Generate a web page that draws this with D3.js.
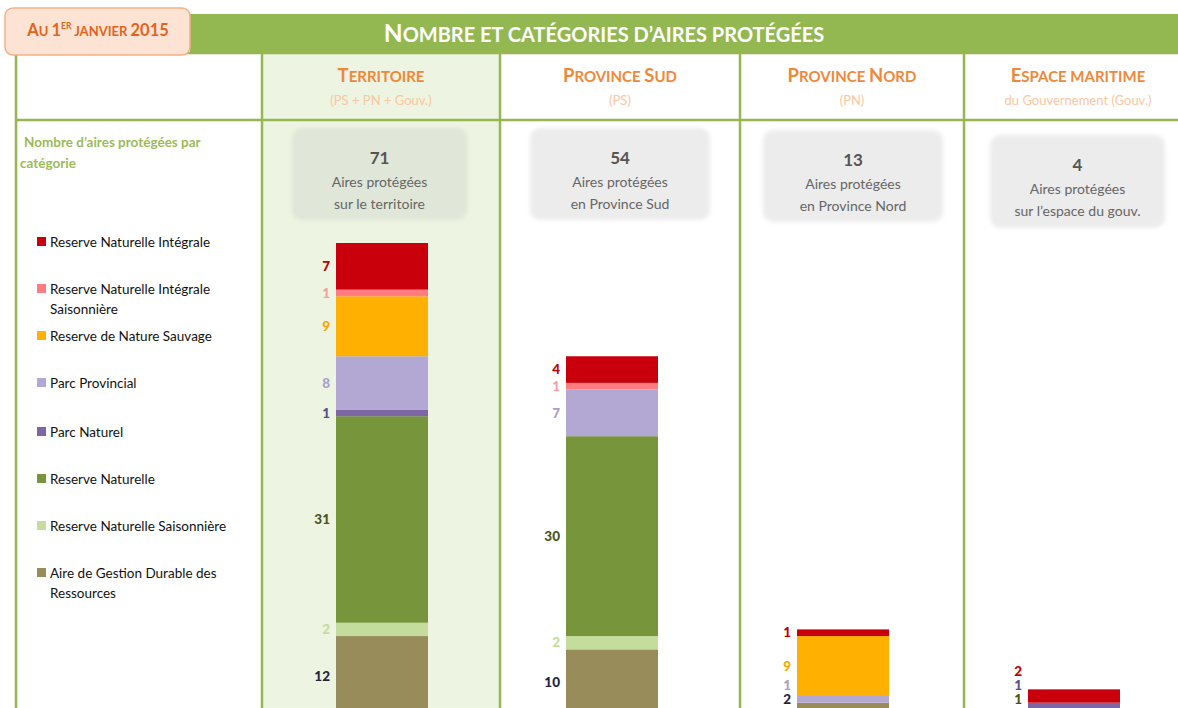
<!DOCTYPE html>
<html><head><meta charset="utf-8">
<script src="https://cdn.jsdelivr.net/npm/d3@7"></script>
<style>
body{margin:0;background:#fff;}
svg{display:block;font-family:Lato,"Open Sans",sans-serif;}
</style></head>
<body>
<svg id="c" width="1178" height="708"></svg>
<script>
// ---- data ----
const categories = [
  "Reserve Naturelle Intégrale",
  "Reserve Naturelle Intégrale Saisonnière",
  "Reserve de Nature Sauvage",
  "Parc Provincial",
  "Parc Naturel",
  "Reserve Naturelle",
  "Reserve Naturelle Saisonnière",
  "Aire de Gestion Durable des Ressources"
];
const legendLines = [
  ["Reserve Naturelle Intégrale"],
  ["Reserve Naturelle Intégrale", "Saisonnière"],
  ["Reserve de Nature Sauvage"],
  ["Parc Provincial"],
  ["Parc Naturel"],
  ["Reserve Naturelle"],
  ["Reserve Naturelle Saisonnière"],
  ["Aire de Gestion Durable des", "Ressources"]
];
const columns = ["Territoire", "Province Sud", "Province Nord", "Espace maritime"];
const subtitles = ["(PS + PN + Gouv.)", "(PS)", "(PN)", "du Gouvernement (Gouv.)"];
const boxLines = [
  ["Aires protégées", "sur le territoire"],
  ["Aires protégées", "en Province Sud"],
  ["Aires protégées", "en Province Nord"],
  ["Aires protégées", "sur l’espace du gouv."]
];
const territoire   = [7, 1, 9, 8, 1, 31, 2, 12];
const provinceSud  = [4, 1, 0, 7, 0, 30, 2, 10];
const provinceNord = [1, 0, 9, 1, 0, 0, 0, 2];
const gouvernement = [2, 0, 0, 0, 1, 1, 0, 0];
const seriesByColumn = [territoire, provinceSud, provinceNord, gouvernement];

// ---- styles ----
const fills = ["#c9000b","#ff7c80","#ffb000","#b2a8d3","#7e66a4","#77953a","#c4dd9c","#988c5a"];
const labelColors = ["#c00000","#f4a0a0","#f5a800","#a9a0cc","#5c4c8c","#4a5418","#c4dd9c","#1f2540"];
const green = "#93b851";
const orange = "#f0883a";

const svg = d3.select("#c");
const defs = svg.append("defs");
defs.append("filter").attr("id","soft").attr("x","-10%").attr("y","-10%").attr("width","120%").attr("height","120%")
  .append("feGaussianBlur").attr("stdDeviation", 2.2);

// manual small caps: uppercase letters big, lowercase rendered as uppercase small
function smallCaps(t, str, big, small) {
  const parts = [];
  for (const ch of str) {
    const isBig = ch !== ch.toLowerCase() || /[0-9]/.test(ch);
    const size = isBig ? big : small;
    if (parts.length && parts[parts.length-1].size === size) parts[parts.length-1].s += ch.toUpperCase();
    else parts.push({size, s: ch.toUpperCase()});
  }
  parts.forEach(p => t.append("tspan").attr("font-size", p.size).text(p.s));
  return t;
}

// column layout
const colEdges = [262, 500, 740, 964, 1178];
const colCenters = [381, 620, 852, 1078];
const barCenters = [382, 612, 843, 1074];
const boxes = [
  {x:292,y:128,w:175,h:92},
  {x:530,y:128,w:180,h:92},
  {x:763,y:130,w:180,h:92},
  {x:990,y:135,w:175,h:93}
];

// Territoire column background
svg.append("rect").attr("x",262).attr("y",52).attr("width",238).attr("height",656).attr("fill","#edf4e1");

// Header bar
svg.append("rect").attr("x",190).attr("y",14).attr("width",988).attr("height",39).attr("fill",green);
smallCaps(svg.append("text").attr("x",604).attr("y",42).attr("text-anchor","middle")
  .attr("fill","#fff").attr("font-weight","bold"), "Nombre et catégories d’aires protégées", 24.5, 20);

// grid lines
const grid = svg.append("g").attr("stroke",green).attr("stroke-width",2.5);
grid.append("line").attr("x1",16).attr("x2",16).attr("y1",52).attr("y2",708);
grid.append("line").attr("x1",16).attr("x2",1178).attr("y1",53).attr("y2",53);
grid.append("line").attr("x1",16).attr("x2",1178).attr("y1",120).attr("y2",120);
colEdges.slice(0,4).forEach(x => grid.append("line").attr("x1",x).attr("x2",x).attr("y1",52).attr("y2",708));

// badge
svg.append("rect").attr("x",5).attr("y",8).attr("width",185).attr("height",47).attr("rx",8)
  .attr("fill","#fde3d4").attr("stroke","#f6b088").attr("stroke-width",1.5);
const bt = svg.append("text").attr("x",98).attr("y",36).attr("text-anchor","middle")
  .attr("fill","#e2641c").attr("font-weight","bold");
smallCaps(bt, "Au 1", 16.5, 13);
bt.append("tspan").attr("font-size",8.5).attr("dy",-7).text("ER");
bt.append("tspan").attr("font-size",13).attr("dy",7).text(" JANVIER ");
bt.append("tspan").attr("font-size",16.5).text("2015");

// column headers
columns.forEach((c,i) => {
  smallCaps(svg.append("text").attr("x",colCenters[i]).attr("y",82).attr("text-anchor","middle")
    .attr("fill",orange).attr("font-weight","bold"), c, 18.5, 15);
  svg.append("text").attr("x",colCenters[i]).attr("y",105).attr("text-anchor","middle")
    .attr("fill","#f9c7a2").attr("font-size",13).text(subtitles[i]);
});

// legend heading
svg.append("text").attr("x",24).attr("y",147).attr("fill","#9bbb59").attr("font-weight","bold").attr("font-size",13.5)
  .text("Nombre d’aires protégées par");
svg.append("text").attr("x",20).attr("y",168).attr("fill","#9bbb59").attr("font-weight","bold").attr("font-size",13.5)
  .text("catégorie");

// legend
const legendY = [242, 289, 336, 383, 432, 479, 526, 573];
const lg = svg.append("g");
legendLines.forEach((lines,i) => {
  lg.append("rect").attr("x",37).attr("y",legendY[i]-5).attr("width",9).attr("height",9).attr("fill",fills[i]);
  lines.forEach((l,j) => {
    lg.append("text").attr("x",50).attr("y",legendY[i]+4.5+j*20).attr("fill","#111").attr("font-size",13.5).text(l);
  });
});

// summary boxes
boxes.forEach((b,i) => {
  svg.append("rect").attr("x",b.x).attr("y",b.y).attr("width",b.w).attr("height",b.h).attr("rx",10)
    .attr("fill", i===0 ? "#e0e6d8" : "#ececec").attr("filter","url(#soft)");
  const cx = b.x + b.w/2;
  svg.append("text").attr("x",cx).attr("y",b.y+36).attr("text-anchor","middle").attr("fill","#555")
    .attr("font-weight","bold").attr("font-size",17).text(d3.sum(seriesByColumn[i]));
  boxLines[i].forEach((l,j) => {
    svg.append("text").attr("x",cx).attr("y",b.y+59+j*22).attr("text-anchor","middle").attr("fill","#666")
      .attr("font-size",14).text(l);
  });
});

// stacked bars
const y = d3.scaleLinear().domain([0, 71]).range([716, 243]);
const barW = 92;
const keys = d3.range(categories.length).reverse(); // bottom = last category
const rows = seriesByColumn.map(s => { const o = {}; s.forEach((v,k) => o[k] = v); return o; });
const stacked = d3.stack().keys(keys)(rows);

const bars = svg.append("g");
stacked.forEach(layer => {
  const k = layer.key;
  layer.forEach((d,ci) => {
    if (d[1]-d[0] <= 0) return;
    bars.append("rect").attr("x",barCenters[ci]-barW/2).attr("y",y(d[1]))
      .attr("width",barW).attr("height",y(d[0])-y(d[1])).attr("fill",fills[k]);
  });
});

// value labels with overlap relaxation (bottom to top)
seriesByColumn.forEach((s,ci) => {
  const items = [];
  stacked.forEach(layer => {
    const d = layer[ci]; const k = +layer.key;
    if (d[1]-d[0] > 0) items.push({k, v: s[k], ym: (y(d[0])+y(d[1]))/2});
  });
  let prev = null;
  items.forEach(it => {
    let p = Math.min(it.ym, 699);
    if (prev !== null) p = Math.min(p, prev - 14);
    it.py = p; prev = p;
  });
  items.forEach(it => {
    svg.append("text").attr("x",barCenters[ci]-barW/2-6).attr("y",it.py).attr("dy","0.35em")
      .attr("text-anchor","end").attr("fill",labelColors[it.k]).attr("font-weight","900")
      .attr("font-size",13.5).text(it.v);
  });
});
</script>
</body></html>
